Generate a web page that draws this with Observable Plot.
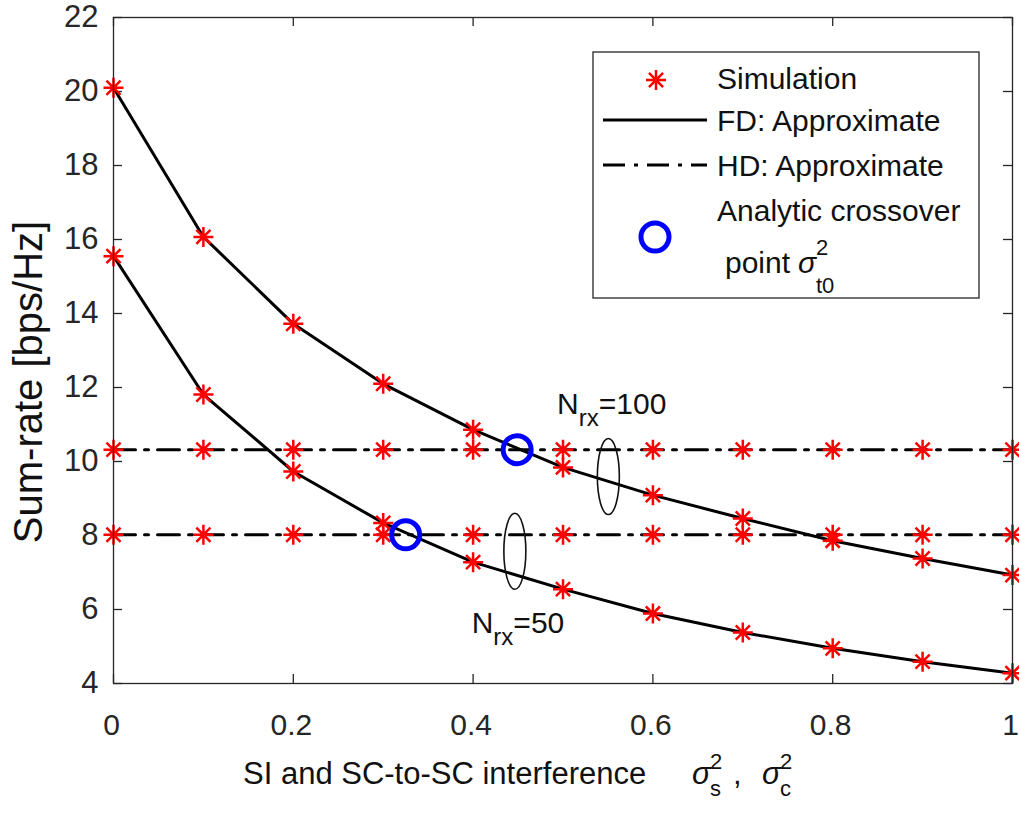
<!DOCTYPE html>
<html><head><meta charset="utf-8">
<script src="https://cdn.jsdelivr.net/npm/d3@7"></script>
<script src="https://cdn.jsdelivr.net/npm/@observablehq/plot@0.6"></script>
<style>
body{margin:0;background:#fff}
#chart svg{font-family:"Liberation Sans",Arial,Helvetica,sans-serif;}
</style>
</head><body><div id="chart"></div>
<script>
// ---- data ----
const xs = [0, 0.1, 0.2, 0.3, 0.4, 0.5, 0.6, 0.7, 0.8, 0.9, 1.0];
const fd100 = [20.10, 16.07, 13.72, 12.10, 10.86, 9.84, 9.09, 8.46, 7.86, 7.38, 6.93];
const fd50  = [15.55, 11.81, 9.73, 8.34, 7.28, 6.55, 5.89, 5.38, 4.95, 4.59, 4.28];
const hd100 = 10.32;
const hd50 = 8.02;
const crossX = [0.449, 0.325];
const crossY = [10.32, 8.02];
const xTicks = [0, 0.2, 0.4, 0.6, 0.8, 1];
const yTicks = [4, 6, 8, 10, 12, 14, 16, 18, 20, 22];
const groupNames = ["N", "N"];
const groupSubs = ["rx", "rx"];
const groupRest = ["=100", "=50"];
const groupLabelX = [0.494, 0.399];
const groupLabelY = [11.57, 5.64];
const ellipseX = [0.551, 0.447];
const ellipseY = [9.58, 7.56];
const legendLabels = ["Simulation", "FD: Approximate", "HD: Approximate", "Analytic crossover", "point"];

// ---- tables ----
const fdRows = [
  ...xs.map((x, i) => ({x, y: fd100[i], n: 100})),
  ...xs.map((x, i) => ({x, y: fd50[i], n: 50}))
];
const hdRows = [
  ...xs.map(x => ({x, y: hd100, n: 100})),
  ...xs.map(x => ({x, y: hd50, n: 50}))
];
const simRows = [...fdRows, ...hdRows];
const crossRows = crossX.map((x, i) => ({x, y: crossY[i]}));

const W = 1019, H = 820;
const mL = 113, mR = 7, mT = 17, mB = 137;
const plotW = W - mL - mR, plotH = H - mT - mB;
const ink = "#262626";
const dashDot = "22,9,4,9";

const asterisk8 = {
  draw(ctx, size) {
    const r = Math.sqrt(size / Math.PI);
    const d = r * Math.SQRT1_2;
    ctx.moveTo(-r, 0); ctx.lineTo(r, 0);
    ctx.moveTo(0, -r); ctx.lineTo(0, r);
    ctx.moveTo(-d, -d); ctx.lineTo(d, d);
    ctx.moveTo(-d, d); ctx.lineTo(d, -d);
  }
};

function starPath(cx, cy, r) {
  const p = d3.path();
  asterisk8.draw({
    moveTo: (a, b) => p.moveTo(cx + a, cy + b),
    lineTo: (a, b) => p.lineTo(cx + a, cy + b)
  }, Math.PI * r * r);
  return p.toString();
}

function annotations(index, scales, values, dims) {
  const {x, y} = scales;
  const g = d3.create("svg:g").attr("fill", "#111").attr("text-anchor", "start");
  // ellipses
  ellipseX.forEach((ex, i) => {
    g.append("ellipse").attr("cx", x(ex)).attr("cy", y(ellipseY[i]))
      .attr("rx", 11).attr("ry", 38)
      .attr("fill", "none").attr("stroke", "#111").attr("stroke-width", 1.6);
  });
  // group labels
  groupNames.forEach((nm, i) => {
    const t = g.append("text").attr("x", x(groupLabelX[i])).attr("y", y(groupLabelY[i]))
      .attr("dy", "0.36em").attr("font-size", 30);
    t.append("tspan").text(nm);
    t.append("tspan").attr("font-size", 24).attr("dy", 12).text(groupSubs[i]);
    t.append("tspan").attr("font-size", 30).attr("dy", -12).text(groupRest[i]);
  });
  // x label
  const base = H - mB + 101;
  const xl = g.append("g").attr("font-size", 31);
  xl.append("text").attr("x", 243).attr("y", base).text("SI and SC-to-SC interference");
  xl.append("text").attr("x", 692).attr("y", base).attr("font-style", "italic").text("σ");
  xl.append("text").attr("x", 710).attr("y", base - 15).attr("font-size", 22).text("2");
  xl.append("text").attr("x", 710).attr("y", base + 12).attr("font-size", 22).text("s");
  xl.append("text").attr("x", 733).attr("y", base).text(",");
  xl.append("text").attr("x", 762).attr("y", base).attr("font-style", "italic").text("σ");
  xl.append("text").attr("x", 780).attr("y", base - 15).attr("font-size", 22).text("2");
  xl.append("text").attr("x", 780).attr("y", base + 12).attr("font-size", 22).text("c");
  // y label
  g.append("text").attr("transform", `translate(42,${382}) rotate(-90)`)
    .attr("text-anchor", "middle").attr("font-size", 40)
    .text("Sum-rate [bps/Hz]");
  // legend
  const lg = g.append("g");
  const L = 593, T = 52, R = 979, B = 298;
  lg.append("rect").attr("x", L).attr("y", T).attr("width", R - L).attr("height", B - T)
    .attr("fill", "white").attr("stroke", ink).attr("stroke-width", 1.3);
  lg.append("path").attr("d", starPath(656, 80, 10)).attr("stroke", "red")
    .attr("stroke-width", 2.5).attr("fill", "none");
  lg.append("line").attr("x1", 603).attr("x2", 707).attr("y1", 120).attr("y2", 120)
    .attr("stroke", "black").attr("stroke-width", 3);
  lg.append("line").attr("x1", 603).attr("x2", 707).attr("y1", 165).attr("y2", 165)
    .attr("stroke", "black").attr("stroke-width", 3).attr("stroke-dasharray", dashDot);
  lg.append("circle").attr("cx", 655).attr("cy", 237).attr("r", 14)
    .attr("fill", "none").attr("stroke", "blue").attr("stroke-width", 5);
  const rowsY = [78, 120, 165, 210];
  rowsY.forEach((ry, i) => {
    lg.append("text").attr("x", 717).attr("y", ry).attr("dy", "0.36em")
      .attr("font-size", 30).text(legendLabels[i]);
  });
  lg.append("text").attr("x", 725).attr("y", 262).attr("dy", "0.36em")
    .attr("font-size", 30).text(legendLabels[4]);
  lg.append("text").attr("x", 798).attr("y", 262).attr("dy", "0.36em")
    .attr("font-size", 30).attr("font-style", "italic").text("σ");
  lg.append("text").attr("x", 816).attr("y", 247).attr("dy", "0.36em")
    .attr("font-size", 22).text("2");
  lg.append("text").attr("x", 816).attr("y", 285).attr("dy", "0.36em")
    .attr("font-size", 22).text("t0");
  return g.node();
}

const chart = Plot.plot({
  width: W, height: H,
  marginLeft: mL, marginRight: mR, marginTop: mT, marginBottom: mB,
  style: {color: ink, background: "white", overflow: "visible"},
  x: {domain: [0, 1], label: null},
  y: {domain: [4, 22], label: null},
  marks: [
    Plot.axisX(xTicks, {tickSize: 0, tickPadding: 30, fontSize: 30, dx: -2, fill: ink, tickFormat: d => String(d), label: null}),
    Plot.axisY(yTicks, {tickSize: 0, tickPadding: 15, fontSize: 31, fill: ink, tickFormat: d => String(d), label: null}),
    Plot.ruleX(xTicks, {x: d => d, insetTop: plotH - 9, stroke: ink, strokeWidth: 1.3}),
    Plot.ruleX(xTicks, {x: d => d, insetBottom: plotH - 9, stroke: ink, strokeWidth: 1.3}),
    Plot.ruleY(yTicks, {y: d => d, insetRight: plotW - 9, stroke: ink, strokeWidth: 1.3}),
    Plot.ruleY(yTicks, {y: d => d, insetLeft: plotW - 9, stroke: ink, strokeWidth: 1.3}),
    Plot.line(hdRows, {x: "x", y: "y", z: "n", stroke: "black", strokeWidth: 3, strokeDasharray: dashDot}),
    Plot.line(fdRows, {x: "x", y: "y", z: "n", stroke: "black", strokeWidth: 3}),
    Plot.dot(simRows, {x: "x", y: "y", symbol: asterisk8, r: 10, stroke: "red", fill: "none", strokeWidth: 2.5}),
    Plot.dot(crossRows, {x: "x", y: "y", r: 14, stroke: "blue", fill: "none", strokeWidth: 5}),
    Plot.frame({stroke: ink, strokeWidth: 1.3}),
    annotations
  ]
});
document.getElementById("chart").appendChild(chart);
</script>
</body></html>
